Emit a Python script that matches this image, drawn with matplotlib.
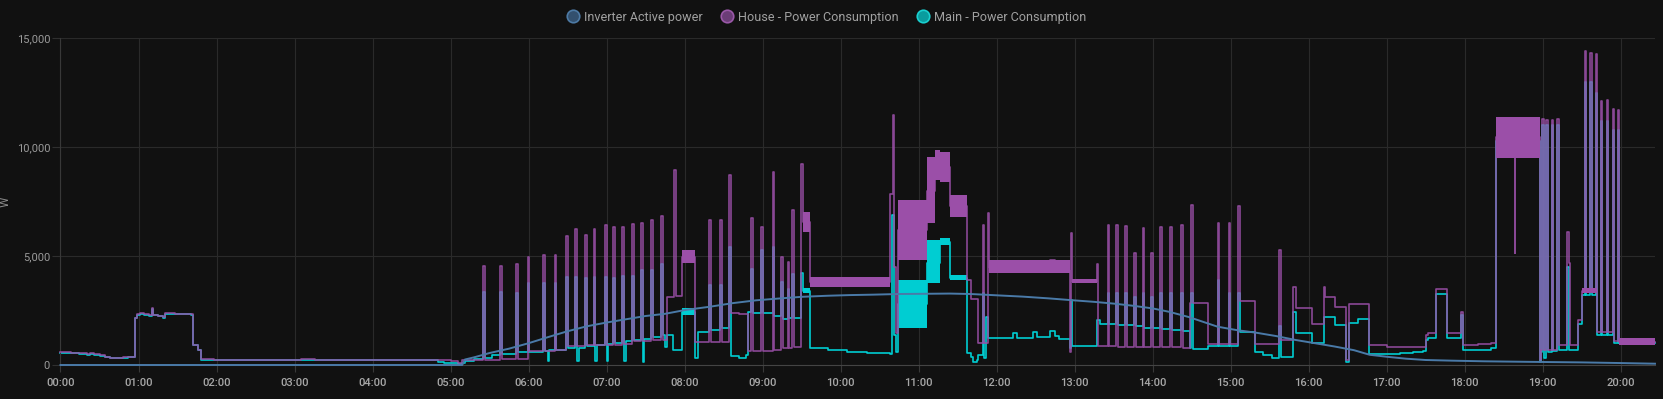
import matplotlib
matplotlib.use("Agg")
import matplotlib.pyplot as plt
from matplotlib.lines import Line2D

plt.rcParams['font.family'] = ['Roboto', 'DejaVu Sans']

# time in minutes after midnight, power in W (step series)
inverter_pts = [
    (0, 0), (309, 0), (311, 250), (318, 350), (330, 550), (345, 750), (360, 1000),
    (375, 1280), (390, 1550), (405, 1780), (420, 1950), (435, 2100), (450, 2250),
    (465, 2350), (480, 2520), (500, 2680), (517, 2840), (535, 2970), (552, 3050),
    (570, 3130), (590, 3180), (607, 3210), (625, 3230), (645, 3260), (665, 3270),
    (684, 3280), (700, 3260), (720, 3200), (740, 3140), (760, 3060), (777, 2980),
    (795, 2900), (810, 2820), (825, 2720), (840, 2600), (853, 2440), (868, 2200),
    (883, 1900), (890, 1760), (905, 1600), (920, 1480), (935, 1330), (950, 1150),
    (965, 1000), (980, 850), (995, 680), (1007, 470), (1020, 380), (1035, 290),
    (1050, 230), (1070, 200), (1095, 170), (1130, 145), (1170, 120), (1200, 90),
    (1226.5, 60),
]

house_pts = [
    (0, 580), (8, 570), (14, 540), (20, 500), (23, 530), (26, 490), (30, 440), (34, 390),
    (38, 320), (44, 330), (48, 350), (52, 370), (54, 390), (56, 370),
    (57.3, 2170), (59, 2330), (61, 2380), (64, 2320), (68, 2280), (70, 2600), (71, 2300),
    (75, 2260), (78.8, 2200), (80.4, 2370), (88, 2360), (95, 2340), (100, 2320),
    (102.2, 920), (105.8, 690), (107.8, 260), (118, 240), (135, 230), (152, 250), (170, 240),
    (185, 260), (196, 240), (215, 230), (232, 250), (250, 250), (262, 230), (275, 240),
    (290, 230), (300, 200), (305.8, 80), (308.6, 230), (311.2, 250),
    (325.3, 4560), (326.6, 250), (338.3, 4560), (339.6, 260), (350.4, 4620), (351.7, 280),
    (359.3, 4970), (360.6, 640), (371.4, 5050), (372.7, 650), (380.1, 5050), (381.4, 680),
    (388.9, 5920), (390.2, 870), (395.8, 6240), (397.1, 880), (403.7, 5990), (405, 900),
    (410.1, 6240), (411.4, 910), (418.9, 6420), (420.2, 930), (425.0, 6340), (426.3, 930),
    (432.2, 6340), (433.5, 950), (439.7, 6470), (441, 1100), (446.6, 6500), (447.9, 1120),
    (454.5, 6680), (455.8, 1150), (462.0, 6850), (463.3, 1150),
    (466.5, 3100), (472.2, 8940), (473.5, 3150), (477.8, 4980), (488.1, 1070),
    (499.1, 6650), (500.4, 1060), (507.6, 6680), (508.9, 1050),
    (514.5, 8720), (515.8, 2400), (522, 2350), (529.1, 650),
    (531.2, 6730), (532.5, 640), (538.9, 6340), (540.2, 630), (547.8, 8870), (549.1, 700),
    (554.3, 4970), (555.6, 760), (559.3, 4740), (560.6, 800), (562.7, 7110), (564, 820),
    (569.7, 9220), (571.0, 6570), (576.5, 3830),
    (638.1, 7870), (640.1, 11470), (641.2, 4510), (642.5, 1450),
    (644.2, 6200), (666.5, 8000), (672.7, 9300), (676.5, 9100), (684.2, 7300),
    (697.1, 3900), (700.2, 3050), (706.0, 1000), (709.3, 6420), (710.6, 1000),
    (713.2, 6960), (714.2, 4500), (733, 4700), (736, 4500), (748, 4750), (751, 4500),
    (761, 4800), (765, 4550), (768, 4300),
    (776.5, 610), (777.3, 6040), (778.3, 3850), (797.3, 4660), (798.3, 850),
    (805.5, 6420), (806.8, 850), (812.0, 6420), (813.3, 830), (819.1, 6380), (820.4, 830),
    (826.0, 5120), (827.3, 820), (832.4, 6270), (833.7, 820), (838.9, 5150), (840.2, 820),
    (846.0, 6330), (847.3, 820), (853.5, 6330), (854.8, 820), (862.0, 6420), (863.3, 800),
    (868.8, 2850), (869.7, 7340), (871.0, 2850), (882.7, 950),
    (890.1, 6500), (891.4, 950), (898.6, 6500), (899.9, 950), (905.8, 7290), (907.1, 2950),
    (918.8, 970), (937.6, 5300), (938.9, 1150),
    (948.3, 3590), (950.0, 2600), (962.5, 1880), (971.7, 3590), (973.0, 3100), (980.4, 2650),
    (989.0, 230), (991.2, 2780), (1006.8, 920), (1020.4, 820), (1048.1, 840), (1050, 1380),
    (1051.9, 1450), (1058.1, 3480), (1066.3, 1450), (1077.3, 2440), (1078.6, 900),
    (1090, 950), (1100, 1000),
    (1104.2, 10450), (1118.5, 5120), (1119.2, 10450), (1138.1, 230), (1139.0, 690),
    (1139.7, 11300), (1141, 690), (1143, 11250), (1144.3, 690), (1147, 11250), (1148.3, 690),
    (1151.2, 11300), (1152.5, 900), (1159.0, 6120), (1160.0, 4680), (1161, 900),
    (1167.3, 2060), (1170.4, 3400), (1172.3, 14420), (1173.3, 3400), (1176.7, 14330),
    (1177.7, 3400), (1180.8, 14280), (1181.8, 1500), (1185.1, 12130), (1186.1, 1500),
    (1189.4, 12170), (1190.4, 1500), (1194.1, 11740), (1195.1, 1100), (1198.2, 11720),
    (1199.2, 1050), (1226.5, 1050),
]

main_pts = [
    (0, 560), (8, 550), (14, 520), (20, 480), (23, 510), (26, 470), (30, 420), (34, 370),
    (38, 300), (44, 310), (48, 330), (52, 350), (54, 370), (56, 350),
    (57.3, 2150), (59, 2310), (61, 2360), (64, 2300), (68, 2260), (70, 2580), (71, 2280),
    (75, 2240), (78.8, 2180), (80.4, 2350), (88, 2340), (95, 2320), (100, 2300),
    (102.2, 900), (105.8, 670), (107.8, 240), (118, 220), (135, 210), (152, 230), (170, 220),
    (185, 240), (196, 220), (215, 210), (232, 230), (250, 230), (262, 210), (275, 220),
    (290, 160), (295, 80), (305.8, 60), (308.6, 70), (311.2, 200),
    (318, 280), (325.3, 3360), (326.6, 330), (332, 450), (338.3, 3370), (339.6, 520),
    (350.4, 3290), (351.7, 600), (359.3, 3750), (360.6, 620),
    (371.4, 3750), (372.7, 650), (375, 200), (376, 680), (380.1, 3750), (381.4, 700),
    (388.9, 4050), (390.2, 760), (395.8, 4050), (397.1, 200), (398.5, 800),
    (403.7, 4000), (405, 850), (410.1, 4050), (411.4, 180), (412.7, 900),
    (418.9, 4050), (420.2, 200), (421.5, 950), (425.0, 4000), (426.3, 1000),
    (432.2, 4100), (433.5, 180), (434.8, 1100), (439.7, 4100), (441, 1150),
    (446.6, 4360), (447.9, 150), (449.2, 1200), (454.5, 4360), (455.8, 1300),
    (462.0, 4660), (463.3, 1400), (465, 840), (466.5, 1400), (471.2, 690),
    (477.8, 2450), (488.1, 300), (490.4, 1530),
    (499.1, 3670), (500.4, 1600), (507.6, 3670), (508.9, 1720),
    (514.5, 5430), (515.8, 400), (522, 330), (527, 450),
    (529.1, 2420), (531.2, 4400), (532.5, 2400), (538.9, 5270), (540.2, 2380),
    (547.8, 5430), (549.1, 2250), (554.3, 3800), (555.6, 2100), (559.3, 3500), (560.6, 2150),
    (562.7, 4200), (564, 2150), (569.7, 4220), (571.0, 3420),
    (576.5, 780), (590, 700), (605, 600), (620, 560), (638.1, 520),
    (639.5, 6880), (641.2, 1400), (642.5, 600),
    (644.2, 2800), (666.5, 4700), (676.5, 5650), (684.2, 4000),
    (697.1, 550), (700.2, 350), (702, 120), (705, 250), (706, 450),
    (709.3, 3300), (710.6, 300), (712, 2200), (713.2, 1250),
    (733, 1450), (736, 1250), (748, 1500), (751, 1300), (761, 1550), (765, 1350), (768, 1200),
    (776.5, 760), (777.3, 2980), (778.3, 880), (797.3, 2060), (799.5, 1900),
    (805.5, 3300), (806.8, 1880), (812.0, 3300), (813.3, 1850), (819.1, 3300), (820.4, 1850),
    (826.0, 3100), (827.3, 1800), (832.4, 3300), (833.7, 1700), (838.9, 3100), (840.2, 1680),
    (846.0, 3300), (847.3, 1650), (853.5, 3300), (854.8, 1600), (862.0, 3300), (863.3, 1550),
    (868.8, 760), (869.7, 3300), (871.0, 720), (882.7, 850),
    (890.1, 3900), (891.4, 850), (898.6, 3300), (899.9, 850), (905.8, 3300), (907.1, 1500),
    (918.8, 600), (925, 450), (932, 300), (937.6, 1800), (938.9, 350),
    (948.3, 2440), (950, 1450), (962.5, 1000), (971.7, 2220), (980.4, 1850), (989.0, 150),
    (991.2, 1950), (998, 2100), (1006.8, 500), (1020.4, 520), (1030, 560), (1040, 600),
    (1048.1, 640), (1050, 1150), (1051.9, 1220), (1058.1, 3250), (1066.3, 1220),
    (1077.3, 2300), (1078.6, 680), (1090, 700), (1100, 780),
    (1104.2, 10300), (1138.1, 150), (1139.0, 600), (1139.7, 11000), (1141, 300),
    (1143, 11000), (1144.3, 600), (1147, 11000), (1148.3, 650), (1151.2, 11000),
    (1152.5, 700), (1159, 4500), (1160, 700), (1167.3, 1900), (1170.4, 3200),
    (1172.3, 13000), (1173.3, 3200), (1176.7, 13000), (1177.7, 3200), (1180.8, 12500),
    (1181.8, 1400), (1185.1, 11200), (1186.1, 1400), (1189.4, 11200), (1190.4, 1400),
    (1194.1, 10800), (1195.1, 1000), (1198.2, 10800), (1199.2, 1000), (1226.5, 1000),
]

# noisy stretches drawn as bands: (start, end, low, high)
house_bands = [
    (477.8, 488.1, 4680, 5280), (571.0, 576.5, 6110, 7030), (576.5, 638.1, 3600, 4050),
    (644.2, 666.5, 4820, 7570), (666.5, 672.7, 6500, 9560), (672.7, 676.5, 8490, 9860),
    (676.5, 684.2, 8410, 9790), (684.2, 697.1, 6800, 7800), (714.2, 776.5, 4220, 4800),
    (778.3, 797.3, 3750, 3970), (1104.2, 1138.1, 9500, 11400), (1170.4, 1181.8, 3290, 3520),
    (1199.2, 1226.5, 920, 1220),
]
main_bands = [
    (477.8, 488.1, 2290, 2600), (571.0, 576.5, 3300, 3530), (644.2, 666.5, 1680, 3900),
    (666.5, 676.5, 3750, 5730), (676.5, 684.2, 5500, 5830), (684.2, 697.1, 3900, 4130),
    (1199.2, 1226.5, 940, 1150),
]

hours = list(range(0, 21))

bg = '#111111'
c_inv = '#4a7aa8'
c_house = '#9b4fa8'
c_main = '#00cdd2'

fig = plt.figure(figsize=(16.63, 3.99), dpi=100, facecolor=bg)
ax = fig.add_axes([0.03638, 0.0852, 0.9588, 0.8188])
ax.set_facecolor(bg)

t, w = zip(*main_pts)
ax.plot(t, w, drawstyle='steps-post', color=c_main, lw=1.2, zorder=2, clip_on=False)
for a, b, lo, hi in main_bands:
    ax.fill_between([a, b], lo, hi, color=c_main, lw=0, zorder=2)

t, w = zip(*house_pts)
ax.plot(t, w, drawstyle='steps-post', color=c_house, lw=1.2, alpha=0.88, zorder=3, clip_on=False)
for a, b, lo, hi in house_bands:
    ax.fill_between([a, b], lo, hi, color=c_house, lw=0, zorder=3)

t, w = zip(*inverter_pts)
ax.plot(t, w, color=c_inv, lw=1.4, zorder=4, clip_on=False)

ax.set_xlim(0, 1226.5)
ax.set_ylim(0, 15000)
ax.set_xticks([h * 60 for h in hours])
ax.set_xticklabels([f"{h:02d}:00" for h in hours], fontweight='medium')
ax.set_yticks([0, 5000, 10000, 15000])
ax.set_yticklabels(['0', '5,000', '10,000', '15,000'])

ax.grid(True, color='#2a2a2a', lw=0.8)
ax.set_axisbelow(True)
for s in ['top', 'right']:
    ax.spines[s].set_visible(False)
ax.spines['left'].set_color('#383838')
ax.spines['bottom'].set_color('#444444')
ax.tick_params(axis='x', length=5, color='#383838', pad=4, labelsize=8, labelcolor='#a8a8a8')
ax.tick_params(axis='y', length=6, color='#2f2f2f', pad=1.5, labelsize=8, labelcolor='#9a9a9a')

fig.text(5 / 1663, 1 - 202 / 399, 'W', rotation=90, va='center', ha='center',
         color='#8a8a8a', fontsize=8.5)

handles = [
    Line2D([], [], ls='none', marker='o', ms=9, mfc='#33506e', mec='#4d7aa5', mew=1.2),
    Line2D([], [], ls='none', marker='o', ms=9, mfc='#6b3d77', mec='#9a58a8', mew=1.2),
    Line2D([], [], ls='none', marker='o', ms=9, mfc='#0a9c9e', mec='#19d0d0', mew=1.2),
]
labels = ['Inverter Active power', 'House - Power Consumption', 'Main - Power Consumption']
fig.legend(handles, labels, loc='center', bbox_to_anchor=(0.497, 1 - 17 / 399), ncol=3,
           frameon=False, fontsize=9.1, labelcolor='#a0a0a0', handlelength=1.0,
           handletextpad=0.4, columnspacing=1.4)

fig.savefig('out.png', dpi=100, facecolor=bg)
